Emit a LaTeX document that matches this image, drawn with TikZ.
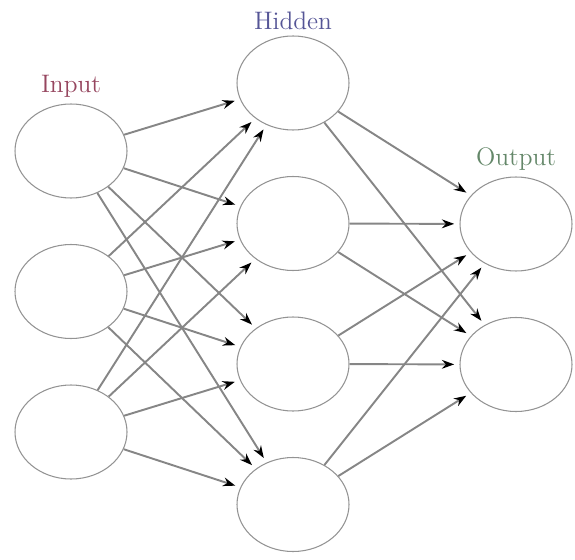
\documentclass[tikz,border=0pt]{standalone}
\usepackage{amsmath,amsfonts}
\usepackage{tikz}
\usetikzlibrary{positioning,shapes.geometric,arrows.meta}

\definecolor{incol}{RGB}{150,70,95}
\definecolor{hidcol}{RGB}{85,85,150}
\definecolor{outcol}{RGB}{100,135,105}

\begin{document}
\begin{tikzpicture}[shorten >=3pt,node distance=2.81cm,on grid,
   neuron/.style={ellipse,draw=gray!85,line width=0.6pt,minimum width=2.24cm,minimum height=1.88cm},
   link/.style={draw=gray!95,line width=1.1pt,-{Stealth[black,length=7pt,width=5pt]}},
   layer/.style={anchor=south,font=\Large}]
   \useasboundingbox (0,0) rectangle (11.5,-11.18);

   % input layer
   \node[neuron] (i_1) at (1.42,-3.02) {};
   \node[neuron] (i_2) [below=of i_1] {};
   \node[neuron] (i_3) [below=of i_2] {};

   % hidden layer
   \node[neuron] (h_1) at (5.86,-1.66) {};
   \node[neuron] (h_2) [below=of h_1] {};
   \node[neuron] (h_3) [below=of h_2] {};
   \node[neuron] (h_4) [below=of h_3] {};

   % output layer
   \node[neuron] (o_1) at (10.32,-4.48) {};
   \node[neuron] (o_2) [below=of o_1] {};

   \foreach \i in {1,2,3}
      \foreach \h in {1,...,4}
         \path[link] (i_\i) edge (h_\h);
   \foreach \h in {1,...,4}
      \foreach \o in {1,2}
         \path[link] (h_\h) edge (o_\o);

   \node[layer,text=incol] (l_in) at (i_1.north) {Input};
   \node[layer,text=hidcol] (l_hid) at (h_1.north) {Hidden};
   \node[layer,text=outcol] (l_out) at (o_1.north) {Output};
\end{tikzpicture}
\end{document}
